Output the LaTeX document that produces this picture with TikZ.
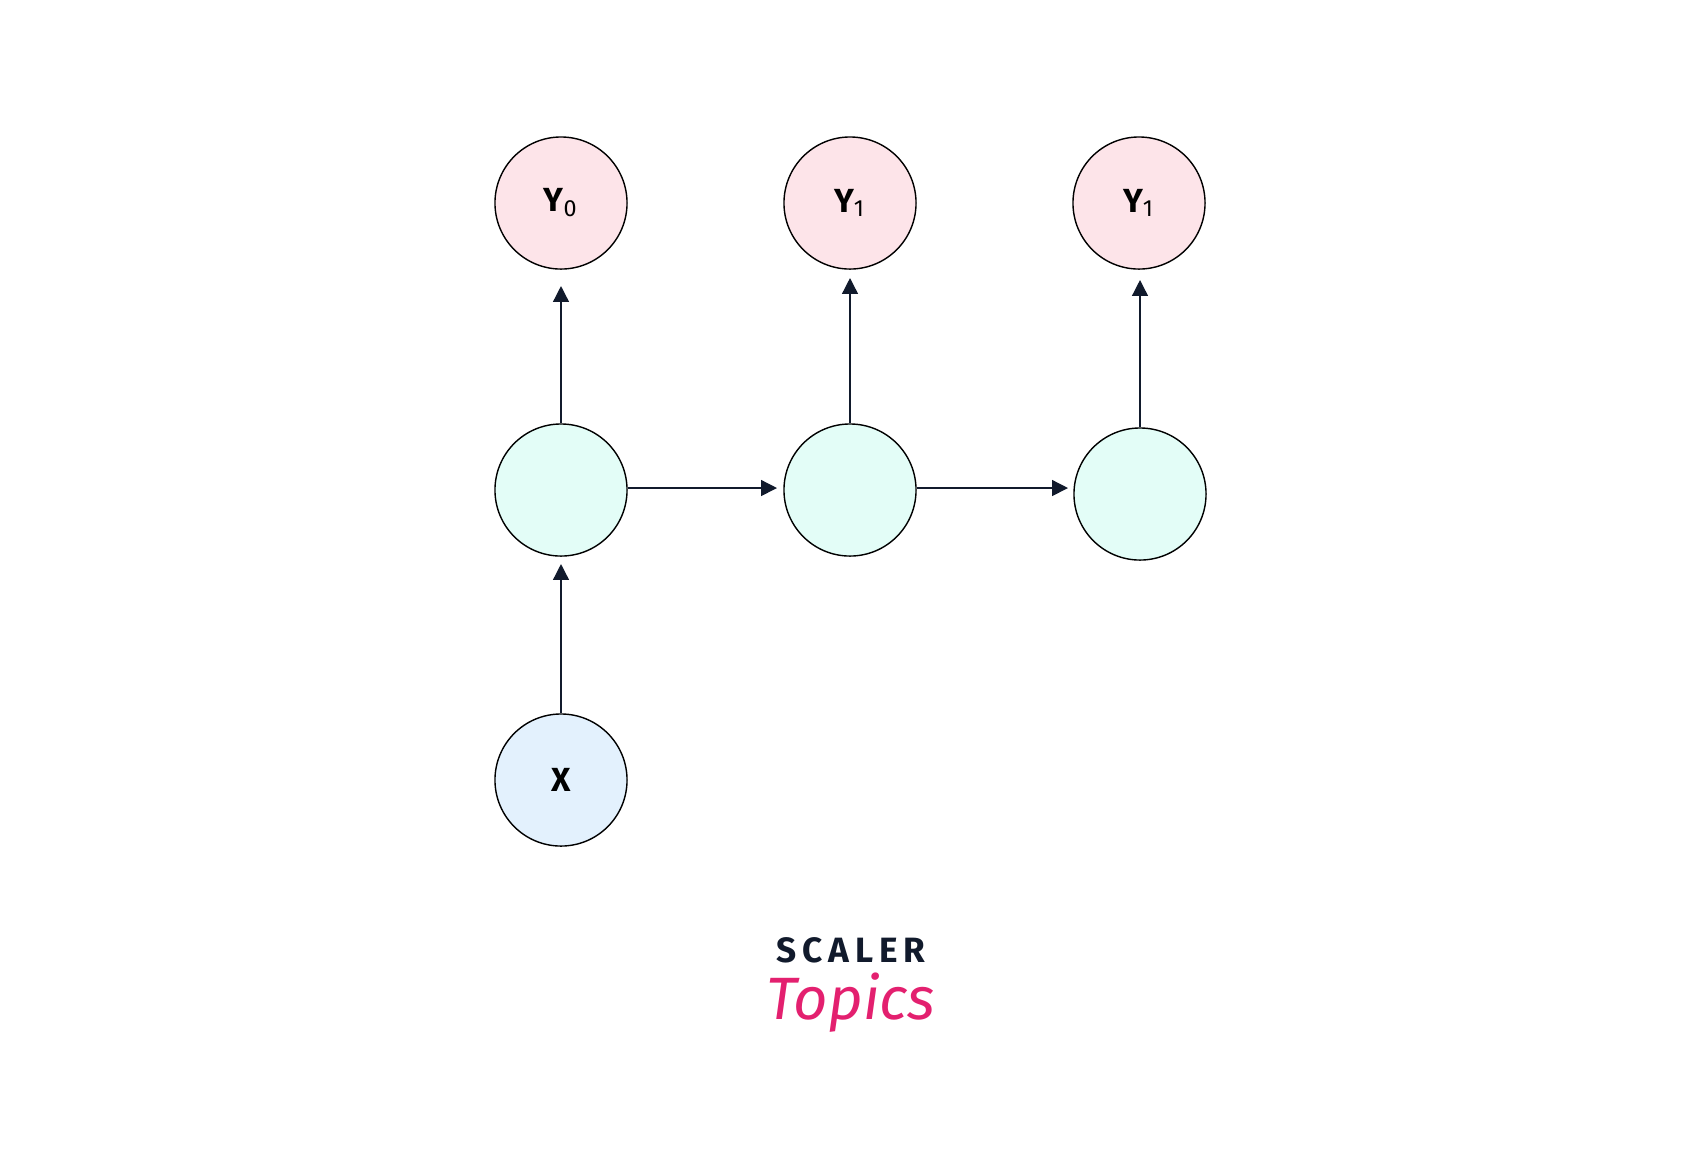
\documentclass[tikz,border=0pt]{standalone}
\usepackage{fontspec}
\setmainfont{Fira Sans}
\usetikzlibrary{arrows.meta}
\definecolor{outpink}{HTML}{FDE4E9}
\definecolor{hidmint}{HTML}{E3FDF7}
\definecolor{inblue}{HTML}{E3F1FD}
\definecolor{navy}{HTML}{111A2C}
\definecolor{scalerpink}{HTML}{E3206F}
\tikzset{
  base/.style={draw, circle, minimum size=1.32cm, inner sep=0pt, font=\fontsize{9.5}{11}\selectfont\bfseries},
  yn/.style={base, fill=outpink},
  hn/.style={base, fill=hidmint},
  xn/.style={base, fill=inblue},
  ma/.style={-{Triangle[length=4.5pt,width=4.5pt]}, draw=navy, line width=0.4pt},
}
\begin{document}
\begin{tikzpicture}[x=0.01cm, y=-0.01cm]
\useasboundingbox (0,0) rectangle (1700,1153);

\node[yn] (y0) at (561, 203) {Y\textsubscript{\mdseries 0}};
\node[yn] (y1) at (850, 203) {Y\textsubscript{\mdseries 1}};
\node[yn] (y2) at (1139, 203) {Y\textsubscript{\mdseries 1}};

\node[hn] (h0) at (561, 490) {};
\node[hn] (h1) at (850, 490) {};
\node[hn] (h2) at (1140, 494) {};

\node[xn] (x) at (561, 780) {X};

\coordinate (t0) at (561, 286);
\coordinate (t1) at (850, 278);
\coordinate (t2) at (1140, 280);
\coordinate (tx) at (561, 564);
\coordinate (r1) at (777, 488);
\coordinate (r2) at (1068, 488);

\draw[ma] (h0) -- (t0);
\draw[ma] (h1) -- (t1);
\draw[ma] (h2) -- (t2);
\draw[ma] (x) -- (tx);
\draw[ma] (h0.east |- r1) -- (r1);
\draw[ma] (h1.east |- r2) -- (r2);

% logo
\node[text=navy, font=\fontsize{10}{12}\selectfont\bfseries] (sc) at (851, 950) {S\,C\,A\,L\,E\,R};
\node[text=scalerpink, font=\fontsize{17}{20}\selectfont\itshape] (tp) at (851, 1003) {Topics};
\end{tikzpicture}
\end{document}
